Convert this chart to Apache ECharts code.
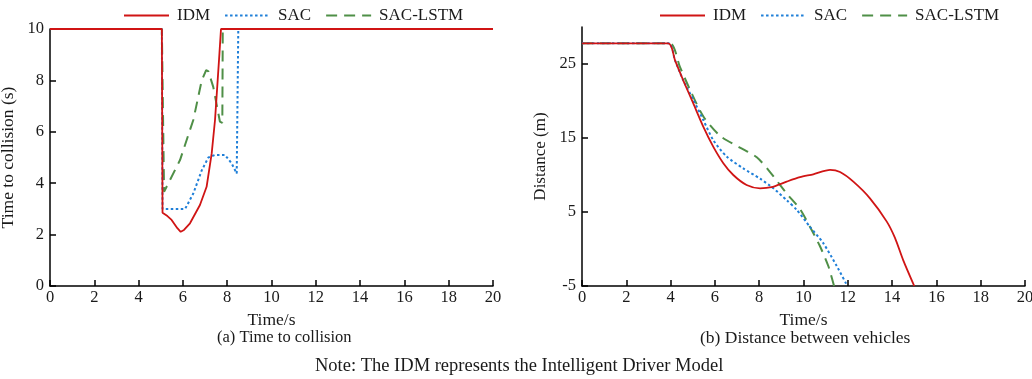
<!DOCTYPE html>
<html>
<head>
<meta charset="utf-8">
<script src="https://cdn.jsdelivr.net/npm/echarts@6/dist/echarts.min.js"></script>
<style>html,body{margin:0;padding:0;background:#fff}#c{width:1032px;height:379px}</style>
</head>
<body>
<div id="c"></div>
<script>
// ---- Data ----
const seriesNames = ['IDM', 'SAC', 'SAC-LSTM'];
const xTicks = [0, 2, 4, 6, 8, 10, 12, 14, 16, 18, 20];
const yTicksA = [0, 2, 4, 6, 8, 10];
const yTicksB = [-5, 5, 15, 25];

// (a) Time to collision: [time, ttc]
const ttcIDM = [[0,10],[5.05,10],[5.08,2.85],[5.3,2.72],[5.49,2.57],[5.75,2.25],[5.9,2.11],[6.05,2.18],[6.32,2.44],[6.77,3.15],[7.07,3.86],[7.3,5.16],[7.45,6.46],[7.55,7.75],[7.65,9.05],[7.72,10],[20,10]];
const ttcSAC = [[0,10],[5.05,10],[5.08,3.0],[6.1,3.0],[6.47,3.6],[6.85,4.5],[7.15,5.0],[7.45,5.1],[7.9,5.1],[8.2,4.77],[8.43,4.38],[8.5,10],[20,10]];
const ttcLSTM = [[0,10],[5.05,10],[5.15,3.67],[5.87,4.9],[6.47,6.46],[6.85,8.0],[7.05,8.4],[7.15,8.35],[7.37,7.75],[7.67,6.4],[7.78,6.35],[7.8,10],[20,10]];

// (b) Distance between vehicles: [time, distance]
const distIDM = [[0,27.8],[3.9,27.8],[4.2,25.5],[4.57,22.8],[5.02,19.7],[5.48,16.5],[5.93,13.8],[6.38,11.6],[6.83,10.0],[7.43,8.65],[8.04,8.2],[8.55,8.35],[9.24,9.1],[9.84,9.7],[10.44,10.1],[11.2,10.7],[11.65,10.4],[12.25,9.1],[13.0,6.85],[13.76,3.7],[14.13,1.5],[14.5,-1.5],[15.0,-5]];
const distSAC = [[0,27.8],[3.9,27.8],[4.2,25.5],[4.57,22.8],[5.02,20.2],[5.48,17.4],[5.93,14.7],[6.53,12.5],[7.28,10.9],[8.04,9.5],[8.64,8.2],[9.24,6.6],[9.69,5.3],[10.29,3.0],[10.89,0.8],[11.5,-2.3],[11.98,-5]];
const distLSTM = [[0,27.8],[3.95,27.8],[4.42,24.6],[4.88,21.5],[5.48,17.9],[6.23,15.3],[7.13,13.7],[7.89,12.4],[8.49,10.4],[9.24,7.5],[9.84,5.4],[10.29,3.0],[10.74,0.4],[11.12,-2.3],[11.38,-5]];

// ---- Styles ----
const FONT = '"Liberation Serif", "Times New Roman", serif';
const TXT = '#1a1a1a';
const colors = ['#d01414', '#1f7fd8', '#4f8f47'];
const lineTypes = ['solid', [2.5, 2.5], [11, 7]];

const chart = echarts.init(document.getElementById('c'), null, {renderer: 'canvas'});

function xAxisDef(gi) {
  return {
    type: 'value', gridIndex: gi, min: 0, max: 20, interval: 2,
    name: 'Time/s', nameLocation: 'middle', nameGap: 25,
    nameTextStyle: {fontFamily: FONT, fontSize: 17.5, color: TXT},
    axisLine: {onZero: false, lineStyle: {color: '#000', width: 1.5}},
    axisTick: {inside: true, length: 6, lineStyle: {color: '#000', width: 1.5}, customValues: xTicks},
    axisLabel: {fontFamily: FONT, fontSize: 16.5, color: TXT, margin: 3, customValues: xTicks},
    splitLine: {show: false}
  };
}
function yAxisDef(gi, min, max, ticks, name, fs) {
  return {
    type: 'value', gridIndex: gi, min: min, max: max,
    name: name, nameLocation: 'middle', nameGap: 33,
    nameTextStyle: {fontFamily: FONT, fontSize: fs, color: TXT},
    axisLine: {onZero: false, lineStyle: {color: '#000', width: 1.5}},
    axisTick: {inside: true, length: 6, lineStyle: {color: '#000', width: 1.5}, customValues: ticks},
    axisLabel: {fontFamily: FONT, fontSize: 16.5, color: TXT, margin: 6, customValues: ticks},
    splitLine: {show: false}
  };
}
function mk(name, idx, data, gi, smooth) {
  return {
    name: name, type: 'line', xAxisIndex: gi, yAxisIndex: gi,
    data: data, symbol: 'none', showSymbol: false, smooth: smooth,
    z: 5 - idx,
    lineStyle: {color: colors[idx], width: idx === 0 ? 1.8 : 2, type: lineTypes[idx]},
    itemStyle: {color: colors[idx]}
  };
}
function legendDef(left) {
  return {
    left: left, top: 2, itemWidth: 45, itemHeight: 14, itemGap: 14,
    itemStyle: {opacity: 0},
    textStyle: {fontFamily: FONT, fontSize: 17, color: TXT, padding: [0, 0, 0, 3]},
    data: seriesNames
  };
}

chart.setOption({
  animation: false,
  backgroundColor: '#fff',
  grid: [
    {left: 50, top: 29, width: 443, height: 257, outerBoundsMode: 'none', containLabel: false},
    {left: 582, top: 27, width: 443, height: 259, outerBoundsMode: 'none', containLabel: false}
  ],
  legend: [legendDef(118), legendDef(654)],
  xAxis: [xAxisDef(0), xAxisDef(1)],
  yAxis: [
    yAxisDef(0, 0, 10, yTicksA, 'Time to collision (s)', 17.5),
    yAxisDef(1, -5, 30, yTicksB, 'Distance (m)', 17)
  ],
  series: [
    mk('IDM', 0, ttcIDM, 0, false), mk('SAC', 1, ttcSAC, 0, false), mk('SAC-LSTM', 2, ttcLSTM, 0, false),
    mk('IDM', 0, distIDM, 1, 0.25), mk('SAC', 1, distSAC, 1, 0.25), mk('SAC-LSTM', 2, distLSTM, 1, 0.25)
  ],
  graphic: [
    {type: 'text', left: 217, top: 329, style: {text: '(a) Time to collision', font: '16.5px ' + FONT, fill: TXT}},
    {type: 'text', left: 700, top: 329, style: {text: '(b) Distance between vehicles', font: '17.5px ' + FONT, fill: TXT}},
    {type: 'text', left: 315, top: 357, style: {text: 'Note: The IDM represents the Intelligent Driver Model', font: '18.5px ' + FONT, fill: TXT}}
  ]
});
</script>
</body>
</html>
